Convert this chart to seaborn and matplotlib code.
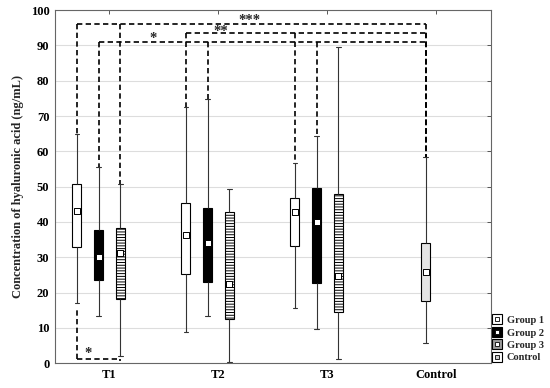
import numpy as np
import pandas as pd
import seaborn as sns
import matplotlib.pyplot as plt
from matplotlib.lines import Line2D
from matplotlib.legend_handler import HandlerTuple

periods = ["T1", "T2", "T3", "Control"]
groups = ["Group 1", "Group 2", "Group 3", "Control"]

# min, q1, median, q3, max per period (ng/mL)
group1_stats = [[17.0, 33.0, 43.2, 50.7, 65.0],
                [9.0, 25.2, 36.4, 45.3, 72.6],
                [15.6, 33.2, 42.7, 46.7, 56.8]]
group2_stats = [[13.5, 23.6, 30.0, 37.7, 55.5],
                [13.5, 23.1, 34.1, 43.9, 74.7],
                [9.8, 22.8, 39.9, 49.5, 64.3]]
group3_stats = [[2.2, 18.1, 31.1, 38.2, 50.7],
                [0.3, 12.6, 22.4, 42.9, 49.3],
                [1.1, 14.6, 24.7, 47.9, 89.6]]
control_stats = [[5.7, 17.6, 25.8, 34.1, 58.3]]

group_periods = {"Group 1": [0, 1, 2], "Group 2": [0, 1, 2], "Group 3": [0, 1, 2], "Control": [3]}
group_stats = {"Group 1": group1_stats, "Group 2": group2_stats,
               "Group 3": group3_stats, "Control": control_stats}

# significance brackets: label, level, members (group, period index)
brackets = [
    ("***", 96.0, [("Group 1", 0), ("Group 3", 0), ("Control", 3)]),
    ("**", 93.4, [("Group 1", 1), ("Group 1", 2), ("Control", 3)]),
    ("*", 91.0, [("Group 2", 0), ("Group 2", 1), ("Group 2", 2), ("Control", 3)]),
]
low_bracket = ("*", 1.1, [("Group 1", 0), ("Group 3", 0)])

# style / layout
offsets = {"Group 1": -0.3, "Group 2": -0.1, "Group 3": 0.1, "Control": -0.1}
faces = {"Group 1": "white", "Group 2": "black", "Group 3": "white", "Control": "#e4e4e4"}
hatches = {"Group 1": None, "Group 2": None, "Group 3": "------", "Control": None}

rows = []
for g in groups:
    for p, st in zip(group_periods[g], group_stats[g]):
        for v in st:
            rows.append({"group": g, "period": p, "pos": p + offsets[g], "value": v})
df = pd.DataFrame(rows)
med = df.groupby(["group", "pos"], as_index=False)["value"].median()
lims = df.groupby(["group", "period"])["value"].agg(["min", "max"])

sns.set_theme(style="white")
plt.rcParams["font.family"] = ["Liberation Serif", "DejaVu Serif"]
plt.rcParams["font.weight"] = "bold"
plt.rcParams["hatch.color"] = "#444444"
plt.rcParams["hatch.linewidth"] = 0.7

fig = plt.figure(figsize=(5.5, 3.88), dpi=100)
ax = fig.add_axes([0.1, 0.0636, 0.7927, 0.9106])

for g in groups:
    sub = df[df.group == g]
    bp = {"facecolor": faces[g], "edgecolor": "black"}
    if hatches[g]:
        bp["hatch"] = hatches[g]
    sns.boxplot(data=sub, x="pos", y="value", native_scale=True, orient="x",
                width=0.08, whis=(0, 100), showfliers=False, saturation=1,
                color=faces[g], linecolor="black", linewidth=0.8,
                boxprops=bp, medianprops={"linewidth": 0},
                whiskerprops={"color": "#333333", "linewidth": 0.8},
                capprops={"color": "#333333", "linewidth": 0.8}, ax=ax)

sns.scatterplot(data=med, x="pos", y="value", marker="s", s=15, color="white",
                edgecolor="black", linewidth=0.7, zorder=6, legend=False, ax=ax)

dash = dict(color="black", lw=1.2, ls=(0, (3.2, 2)), zorder=5)
for lab, lvl, members in brackets:
    xs = [p + offsets[g] for g, p in members]
    ax.plot([min(xs), max(xs)], [lvl, lvl], **dash)
    for (g, p), x in zip(members, xs):
        ax.plot([x, x], [lvl, lims.loc[(g, p), "max"]], **dash)

lab, lvl, members = low_bracket
xs = [p + offsets[g] for g, p in members]
ax.plot([min(xs), max(xs)], [lvl, lvl], **dash)
for (g, p), x in zip(members, xs):
    ax.plot([x, x], [lvl, lims.loc[(g, p), "min"] - 1.5], **dash)

stars = [("***", 1.28, 97.0), ("**", 1.02, 93.9), ("*", 0.4, 91.9), ("*", -0.2, 2.8)]
for s, x, y in stars:
    ax.text(x, y, s, ha="center", va="center", fontsize=10.5, fontweight="bold")

ax.set_xlim(-0.5, 3.5)
ax.set_ylim(0, 100)
ax.set_xticks(range(len(periods)))
ax.set_xticklabels(periods, fontsize=9.5)
ax.set_yticks(range(0, 101, 10))
ax.set_xlabel("")
ax.set_ylabel("Concentration of hyaluronic acid (ng/mL)", fontsize=9, fontweight="bold", labelpad=5)
ax.tick_params(direction="in", top=True, right=True, length=3, width=0.7,
               colors="#555555", labelcolor="black", labelsize=9, pad=4)
ax.yaxis.grid(True, color="#dddddd", lw=0.8)
ax.xaxis.grid(False)
ax.set_axisbelow(True)
for sp in ax.spines.values():
    sp.set_color("#666666")
    sp.set_linewidth(0.8)

def icon(face, inner_face):
    return (Line2D([], [], marker="s", ms=7.5, mfc=face, mec="black", mew=0.8, ls="none"),
            Line2D([], [], marker="s", ms=2.8, mfc=inner_face, mec="black", mew=0.6, ls="none"))

handles = [icon("white", "white"), icon("black", "white"), icon("#9a9a9a", "white"), icon("white", "#cccccc")]
fig.legend(handles, groups, loc="lower left", bbox_to_anchor=(0.895, 0.066),
           frameon=False, handlelength=0.9, handletextpad=0.5, labelspacing=0.3,
           borderpad=0, borderaxespad=0, prop={"size": 7.5, "weight": "bold"},
           handler_map={tuple: HandlerTuple(ndivide=1)})

fig.savefig("out.png", dpi=100)
